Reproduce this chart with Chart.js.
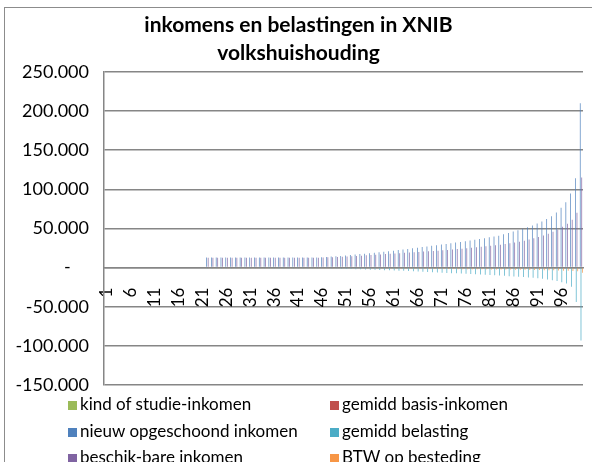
<!DOCTYPE html>
<html>
<head>
<meta charset="utf-8">
<script src="https://cdn.jsdelivr.net/npm/chart.js@4"></script>
<style>
    body { margin: 0; width: 592px; height: 462px; overflow: hidden; background: #fff; position: relative; }
    #kader { position: absolute; left: 4px; top: 7px; width: 640px; height: 500px; border: 1px solid #8c8c8c; pointer-events: none; }
    #grafiek { position: absolute; left: 0; top: 0; }
    .leg { position: absolute; font-family: Lato, sans-serif; font-size: 17px; color: #000; white-space: nowrap; line-height: 20px; }
    .leg span { display: inline-block; width: 9px; height: 9px; margin-right: 3px; vertical-align: 0px; }
</style>
</head>
<body>
<div id="kader"></div>
<canvas id="grafiek" width="592" height="462"></canvas>
<div id="legenda"></div>
<script>
var categorieen = [];
for (var i = 1; i <= 100; i++) { categorieen.push(String(i)); }

var kindStudie = [
    null,null,null,null,null,null,null,null,null,null,
    null,null,null,null,null,null,null,null,null,null,
    null,0,0,0,0,0,0,0,0,0,
    0,0,0,0,0,0,0,0,0,0,
    0,0,0,0,0,0,0,0,0,0,
    0,0,0,0,0,0,0,0,0,0,
    0,0,0,0,0,0,0,0,0,0,
    0,0,0,0,0,0,0,0,0,0,
    0,0,0,0,0,0,0,0,0,0,
    0,0,0,0,0,0,0,0,0,0
];
var basisInkomen = [
    null,null,null,null,null,null,null,null,null,null,
    null,null,null,null,null,null,null,null,null,null,
    null,0,0,0,0,0,0,0,0,0,
    0,0,0,0,0,0,0,0,0,0,
    0,0,0,0,0,0,0,0,0,0,
    0,0,0,0,0,0,0,0,0,0,
    0,0,0,0,0,0,0,0,0,0,
    0,0,0,0,0,0,0,0,0,0,
    0,0,0,0,0,0,0,0,0,0,
    0,0,0,0,0,0,0,0,0,0
];
var opgeschoond = [
    null,null,null,null,null,null,null,null,null,null,
    null,null,null,null,null,null,null,null,null,null,
    null,13000,13000,13000,13000,13000,13000,13000,13000,13000,
    13000,13000,13000,13000,13000,13000,13000,13000,13000,13000,
    13000,13000,13000,13000,13000,13300,13600,14000,14400,14900,
    15400,16000,16600,17200,17800,18400,19000,19600,20200,20900,
    21600,22300,23000,23800,24600,25400,26200,27000,27800,28600,
    29400,30200,31000,31900,32800,33700,34600,35600,36600,37600,
    38600,39700,40800,42500,44200,46000,47700,49500,51500,53800,
    56200,58800,62000,65500,70500,76500,83500,94500,114000,210000
];
var belasting = [
    null,null,null,null,null,null,null,null,null,null,
    null,null,null,null,null,null,null,null,null,null,
    null,-700,-700,-700,-700,-700,-700,-700,-700,-700,
    -700,-700,-700,-700,-700,-700,-700,-700,-700,-700,
    -700,-700,-700,-700,-700,-800,-900,-1100,-1300,-1500,
    -1700,-1900,-2100,-2300,-2500,-2700,-2900,-3100,-3300,-3500,
    -3700,-3900,-4100,-4400,-4700,-5000,-5300,-5600,-5900,-6200,
    -6500,-6800,-7100,-7400,-7700,-8000,-8300,-8600,-8900,-9200,
    -9500,-9800,-10200,-10600,-11000,-11400,-11800,-12200,-12600,-13100,
    -13700,-14400,-15200,-16100,-17200,-18600,-20500,-24500,-44000,-93000
];
var beschikbaar = [
    null,null,null,null,null,null,null,null,null,null,
    null,null,null,null,null,null,null,null,null,null,
    null,12700,12700,12700,12700,12700,12700,12700,12700,12700,
    12700,12700,12700,12700,12700,12700,12700,12700,12700,12700,
    12700,12700,12700,12700,12700,12900,13100,13300,13500,13800,
    14100,14400,14800,15200,15600,16000,16400,16800,17200,17600,
    18000,18400,18800,19200,19600,20000,20400,20800,21200,21600,
    22100,22600,23100,23600,24100,24700,25300,25900,26500,27100,
    27800,28500,29300,30100,31000,32000,33100,34300,35700,37300,
    39100,41100,43300,45800,48700,52000,56000,61000,70000,115000
];
var btw = [
    null,null,null,null,null,null,null,null,null,null,
    null,null,null,null,null,null,null,null,null,null,
    null,-600,-600,-600,-600,-600,-600,-600,-600,-600,
    -600,-600,-600,-600,-600,-600,-600,-600,-600,-600,
    -600,-600,-600,-600,-600,-650,-700,-700,-750,-800,
    -850,-900,-950,-1000,-1050,-1100,-1150,-1200,-1250,-1300,
    -1350,-1400,-1450,-1500,-1550,-1600,-1650,-1700,-1750,-1800,
    -1850,-1900,-1950,-2000,-2050,-2100,-2150,-2200,-2250,-2300,
    -2350,-2400,-2450,-2500,-2600,-2700,-2800,-2900,-3000,-3100,
    -3200,-3300,-3400,-3500,-3700,-3900,-4100,-4400,-4800,-6500
];

var reeksNamen = ['kind of studie-inkomen', 'gemidd basis-inkomen', 'nieuw opgeschoond inkomen',
                  'gemidd belasting', 'beschik-bare inkomen', 'BTW op besteding'];
var reeksKleuren = ['#9BBB59', '#C0504D', '#4F81BD', '#4BACC6', '#8064A2', '#F79646'];
var reeksData = [kindStudie, basisInkomen, opgeschoond, belasting, beschikbaar, btw];

function formatGetal(v) {
    if (v === 0) return '-    ';
    var s = String(Math.abs(v)).replace(/\B(?=(\d{3})+(?!\d))/g, '.');
    return (v < 0 ? '-' : '') + s;
}

function maakGrafiek() {
    var sets = [];
    for (var i = 0; i < reeksNamen.length; i++) {
        sets.push({
            label: reeksNamen[i],
            data: reeksData[i],
            backgroundColor: reeksKleuren[i],
            borderWidth: 0,
            categoryPercentage: 0.96,
            barPercentage: 0.9
        });
    }
    var ctx = document.getElementById('grafiek').getContext('2d');
    var chart = new Chart(ctx, {
        type: 'bar',
        data: { labels: categorieen, datasets: sets },
        options: {
            responsive: false,
            animation: false,
            layout: { padding: { left: 14, right: 9, top: 0, bottom: 77 } },
            plugins: {
                legend: { display: false },
                tooltip: { enabled: false },
                title: {
                    display: true,
                    text: ['inkomens en belastingen in XNIB', 'volkshuishouding'],
                    color: '#000',
                    font: { family: 'Lato', size: 21, weight: 'bold', lineHeight: 1.33 },
                    padding: { top: 11, bottom: 5 }
                }
            },
            scales: {
                x: {
                    position: { y: 0 },
                    afterFit: function (s) { s.paddingLeft = 0; s.paddingRight = 0; },
                    grid: { display: false },
                    border: { color: '#868686', width: 1.5 },
                    ticks: {
                        autoSkip: false,
                        minRotation: 90,
                        maxRotation: 90,
                        padding: 12,
                        color: '#000',
                        font: { family: 'Lato', size: 17 },
                        callback: function (v, idx) {
                            return idx % 5 === 0 ? categorieen[idx] : '';
                        }
                    }
                },
                y: {
                    min: -150000,
                    max: 250000,
                    afterFit: function (s) { s.width = 90; },
                    grid: { color: '#868686', lineWidth: 1.5, drawTicks: false },
                    border: { color: '#868686', width: 1.5 },
                    ticks: {
                        stepSize: 50000,
                        padding: 15,
                        color: '#000',
                        font: { family: 'Lato', size: 18 },
                        callback: function (v) { return formatGetal(v); }
                    }
                }
            }
        }
    });

    // legenda in twee kolommen, zoals in het origineel
    var pos = [[68, 394], [330, 394], [68, 421], [330, 421], [68, 447], [330, 447]];
    var html = '';
    for (var j = 0; j < reeksNamen.length; j++) {
        html += '<div class="leg" style="left:' + pos[j][0] + 'px;top:' + pos[j][1] + 'px">' +
            '<span style="background:' + reeksKleuren[j] + '"></span>' + reeksNamen[j] + '</div>';
    }
    document.getElementById('legenda').innerHTML = html;
}

maakGrafiek();
</script>
</body>
</html>
